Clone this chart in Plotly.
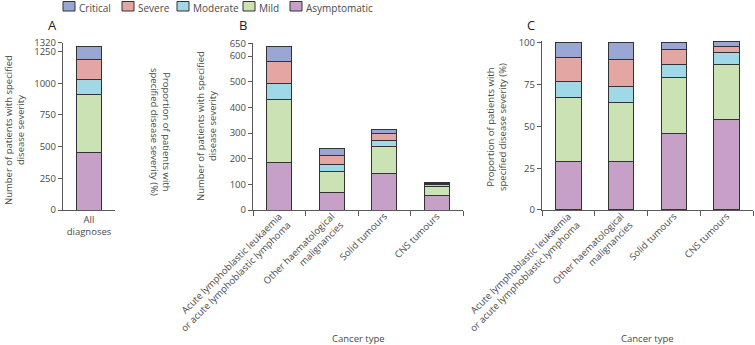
import plotly.graph_objects as go

# ---------------- data ----------------
severities = ["Asymptomatic", "Mild", "Moderate", "Severe", "Critical"]
colors = {"Critical": "#9aa6d4", "Severe": "#e3a6a3", "Moderate": "#a0d8e8",
          "Mild": "#cbe2b4", "Asymptomatic": "#c7a0c8"}

# Panel A: all diagnoses (number of patients)
a_category = ["All<br>diagnoses"]
a_asymptomatic = [452]
a_mild = [458]
a_moderate = [121]
a_severe = [158]
a_critical = [105]

# Panel B: number of patients by cancer type
cancer_types = ["Acute lymphoblastic leukaemia<br>or acute lymphoblastic lymphoma",
                "Other haematological<br>malignancies",
                "Solid tumours",
                "CNS tumours"]
b_asymptomatic = [184, 69, 144, 58]
b_mild = [246, 83, 103, 35]
b_moderate = [63, 24, 25, 7]
b_severe = [86, 38, 28, 4]
b_critical = [60, 24, 13, 3]

# Panel C: proportion (%) by cancer type
c_asymptomatic = [29, 29, 46, 54]
c_mild = [38, 35, 33, 33]
c_moderate = [10, 10, 8, 7]
c_severe = [14, 16, 9, 4]
c_critical = [9, 10, 4, 3]

a_ticks = [0, 250, 500, 750, 1000, 1250, 1320]
a_right_ticks = [0, 25, 50, 75, 100]
b_ticks = [0, 100, 200, 300, 400, 500, 600, 650]
c_ticks = [0, 25, 50, 75, 100]

# ---------------- layout helpers ----------------
W, H = 755, 345
def xd(a, b):
    return [a / W, b / W]
def yd(top, bottom):
    return [1 - bottom / H, 1 - top / H]
def px(x):
    return x / W
def py(y):
    return 1 - y / H

FONT = "Open Sans"
TXT = "#4a4a4a"
AXC = "#5a5a5a"
LINE = dict(color="#333333", width=1)

fig = go.Figure()

panels = [
    ("x", "y", a_category, [a_asymptomatic, a_mild, a_moderate, a_severe, a_critical]),
    ("x2", "y3", cancer_types, [b_asymptomatic, b_mild, b_moderate, b_severe, b_critical]),
    ("x3", "y4", cancer_types, [c_asymptomatic, c_mild, c_moderate, c_severe, c_critical]),
]
for xa, ya, cats, series in panels:
    for name, vals in zip(severities, series):
        fig.add_trace(go.Bar(
            x=cats, y=vals, name=name, xaxis=xa, yaxis=ya,
            marker=dict(color=colors[name], line=LINE),
            showlegend=False, legendgroup=name, hoverinfo="skip"))

totalA = a_asymptomatic[0] + a_mild[0] + a_moderate[0] + a_severe[0] + a_critical[0]

common_y = dict(showline=True, linecolor=AXC, linewidth=1.3, ticks="outside",
                ticklen=4, tickcolor=AXC, tickwidth=1.3, showgrid=False, zeroline=False,
                automargin=False, tickfont=dict(family=FONT, size=9.5, color=TXT))
common_x = dict(showline=True, linecolor=AXC, linewidth=1.3, showgrid=False,
                zeroline=False, type="category", automargin=False,
                tickfont=dict(family=FONT, size=9.5, color=TXT))
cat_x = dict(range=[-0.5, 3.5], ticks="outside", tickson="boundaries", ticklen=5,
             tickcolor=AXC, tickwidth=1.3, tickangle=-45, ticklabelstandoff=-4)

top_c = 210 - 167.3 * 1.01

fig.update_layout(
    width=W, height=H, margin=dict(l=0, r=0, t=0, b=0, pad=0, autoexpand=False),
    paper_bgcolor="white", plot_bgcolor="white",
    barmode="stack", bargap=0.52, showlegend=False,
    font=dict(family=FONT, size=9.5, color=TXT),
    xaxis=dict(domain=xd(63, 115), anchor="y", range=[-0.5, 0.5], ticks="", **common_x),
    yaxis=dict(domain=yd(42.7, 210), anchor="x", range=[0, 1320], tickvals=a_ticks, **common_y),
    yaxis2=dict(domain=yd(42.7, 210), overlaying="y", side="right", anchor="x",
                range=[0, 100 * 1320 / totalA], tickvals=a_right_ticks, **common_y),
    xaxis2=dict(domain=xd(253, 463), anchor="y3", **cat_x, **common_x),
    yaxis3=dict(domain=yd(43.3, 210), anchor="x2", range=[0, 650], tickvals=b_ticks, **common_y),
    xaxis3=dict(domain=xd(542, 753), anchor="y4", **cat_x, **common_x),
    yaxis4=dict(domain=yd(top_c, 210), anchor="x3", range=[0, 101], tickvals=c_ticks, **common_y),
)

ann = []
def text(x, y, s, angle=0, size=9.5, color=TXT, xanchor="center", yanchor="middle", pad=1):
    ann.append(dict(x=px(x), y=py(y), xref="paper", yref="paper", text=s, showarrow=False,
                    textangle=angle, xanchor=xanchor, yanchor=yanchor, borderpad=pad,
                    font=dict(family=FONT, size=size, color=color)))

text(52, 25, "A", size=13, color="#222222")
text(243, 25, "B", size=13, color="#222222")
text(531, 25, "C", size=13, color="#222222")
text(14, 130, "Number of patients with specified<br>disease severity", angle=-90)
text(161, 132, "Proportion of patients with<br>specified disease severity (%)", angle=90)
text(206, 126, "Number of patients with specified<br>disease severity", angle=-90)
text(497, 127, "Proportion of patients with<br>specified disease severity (%)", angle=-90)
text(358, 338, "Cancer type")
text(647, 338, "Cancer type")

# legend (key) row at the top: box left edge in pixels
legend_order = ["Critical", "Severe", "Moderate", "Mild", "Asymptomatic"]
legend_box_x = [63, 122, 177, 243, 290]
shapes = []
for name, bx in zip(legend_order, legend_box_x):
    shapes.append(dict(type="rect", xref="paper", yref="paper",
                       x0=px(bx), x1=px(bx + 12), y0=py(11), y1=py(1.5),
                       fillcolor=colors[name], line=dict(color="#333333", width=1)))
    text(bx + 15, 0, name, size=10, xanchor="left", yanchor="top", pad=0)

fig.update_layout(annotations=ann, shapes=shapes)

fig.write_html("out.html", config={"displayModeBar": False},
               post_script="document.body.style.margin='0';document.body.style.padding='0';")
